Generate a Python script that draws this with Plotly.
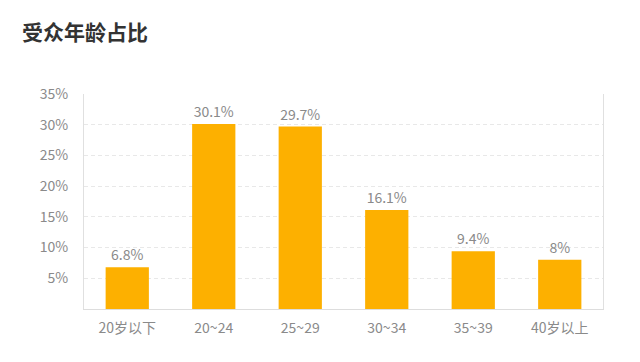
import plotly.graph_objects as go

categories = ["20岁以下", "20~24", "25~29", "30~34", "35~39", "40岁以上"]
values = [6.8, 30.1, 29.7, 16.1, 9.4, 8]
y_ticks = [5, 10, 15, 20, 25, 30, 35]
y_tick_labels = [f"{t}%" for t in y_ticks]

FONT = "Noto Sans CJK SC, Noto Sans, sans-serif"

fig = go.Figure(
    go.Bar(
        x=categories,
        y=values,
        width=0.5,
        marker=dict(color="#FDB000", line=dict(width=0)),
        text=[f"{v:g}%" for v in values],
        textposition="outside",
        textfont=dict(family=FONT, size=14, color="#8a8a8a"),
        cliponaxis=False,
    )
)

fig.update_layout(
    width=640,
    height=362,
    margin=dict(l=84, r=37, t=94, b=53),
    paper_bgcolor="white",
    plot_bgcolor="white",
    showlegend=False,
    font=dict(family=FONT),
    title=dict(
        text="<b>受众年龄占比</b>",
        x=22 / 640, xref="container", xanchor="left",
        y=1 - 33 / 362, yref="container", yanchor="middle",
        font=dict(family=FONT, size=21, color="#333333"),
    ),
)

fig.update_xaxes(
    showline=True, linecolor="#dddddd", linewidth=1,
    showgrid=False, ticks="", automargin=False,
    tickfont=dict(family=FONT, size=14, color="#8a8a8a"),
    ticklabelstandoff=6,
)
fig.update_yaxes(
    range=[0, 35],
    tickvals=y_ticks, ticktext=y_tick_labels,
    showline=True, mirror=True, linecolor="#e0e0e0", linewidth=1,
    showgrid=True, gridcolor="#e8e8e8", griddash="4px,3px", gridwidth=1,
    zeroline=False, ticks="", automargin=False,
    tickfont=dict(family=FONT, size=14, color="#8a8a8a"),
    ticklabelstandoff=12,
)

fig.write_html(
    "out.html",
    config={"displayModeBar": False},
    post_script="document.body.style.margin='0';document.body.style.padding='0';window.dispatchEvent(new Event('resize'));",
)
